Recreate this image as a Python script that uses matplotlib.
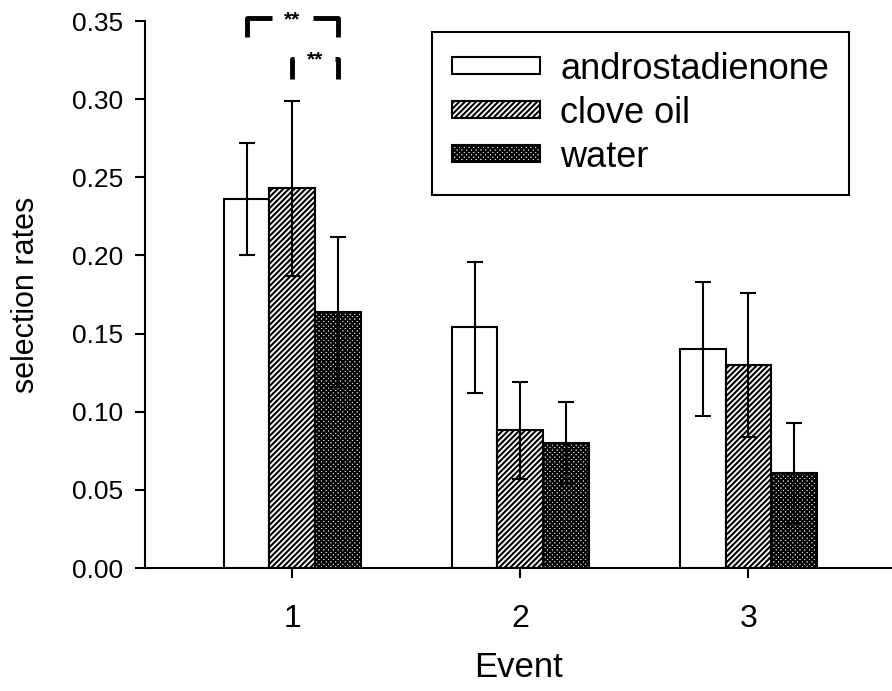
import matplotlib.pyplot as plt
plt.switch_backend('agg')
import numpy as np
from matplotlib import rc

rc('font', family='Liberation Sans', size=19)
rc('axes', linewidth=1.5)
rc('hatch', linewidth=1.5)

events = ['1', '2', '3']
series = ['androstadienone', 'clove oil', 'water']
andro = [0.236, 0.154, 0.140]
andro_err = [0.036, 0.042, 0.043]
clove = [0.243, 0.088, 0.130]
clove_err = [0.056, 0.031, 0.046]
water = [0.164, 0.080, 0.061]
water_err = [0.048, 0.026, 0.032]

hatches = ['', '//////', 'xxxxxxx']
values = [andro, clove, water]
errors = [andro_err, clove_err, water_err]

fig = plt.figure(figsize=(8.92, 6.91), dpi=100)
ax = fig.add_axes([0.1626, 0.178, 0.8374, 0.7916])

x = np.arange(1, len(events) + 1)
w = 0.2
for i in range(3):
    pos = x + (i - 1) * w
    ax.bar(pos, values[i], width=w, color='white', edgecolor='black',
           hatch=hatches[i], linewidth=1.5, label=series[i], zorder=2)
    ax.errorbar(pos, values[i], yerr=errors[i], fmt='none', ecolor='black',
                elinewidth=1.5, capsize=6, capthick=1.5, zorder=3)

# significance brackets over event 1
def bracket(x1, x2, ytop, ydrop, text):
    xm = (x1 + x2) / 2
    gap = 0.09
    ax.plot([x1, x1, xm - gap], [ytop - ydrop, ytop, ytop], color='black',
            lw=3.5, clip_on=False, solid_capstyle='butt')
    ax.plot([xm + gap, x2, x2], [ytop, ytop, ytop - ydrop], color='black',
            lw=3.5, clip_on=False, solid_capstyle='butt')
    ax.text(xm, ytop - 0.001, text, ha='center', va='center', fontsize=15,
            fontweight='bold', clip_on=False)

bracket(x[0] - w, x[0] + w, 0.352, 0.012, '**')
bracket(x[0], x[0] + w, 0.326, 0.013, '**')

ax.set_xlim(0.355, 3.63)
ax.set_ylim(0, 0.35)
ax.set_yticks(np.arange(0, 0.351, 0.05))
ax.set_yticklabels(['%.2f' % v for v in np.arange(0, 0.351, 0.05)])
ax.set_xticks(x)
ax.set_xticklabels(events, fontsize=23)
ax.spines['top'].set_visible(False)
ax.spines['right'].set_visible(False)
ax.tick_params(axis='both', which='major', direction='out', length=7, width=1.5)
ax.tick_params(axis='x', pad=19)
ax.tick_params(axis='y', pad=9)
ax.set_ylabel('selection rates', fontsize=22, labelpad=22)
ax.set_xlabel('Event', fontsize=25, labelpad=12)

leg = ax.legend(loc='upper left', bbox_to_anchor=(432 / 892, 1 - 32 / 691),
                bbox_transform=fig.transFigure, fontsize=26,
                frameon=True, fancybox=False, edgecolor='black', framealpha=1,
                handlelength=2.45, handleheight=0.35, labelspacing=0.25,
                borderpad=0.55, borderaxespad=0, handletextpad=0.55)
leg.get_frame().set_linewidth(1.5)

plt.savefig('out.png', dpi=100)
plt.close()
